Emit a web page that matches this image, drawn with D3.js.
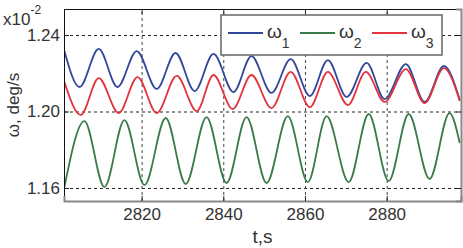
<!DOCTYPE html>
<html>
<head>
<meta charset="utf-8">
<script src="https://cdn.jsdelivr.net/npm/d3@7"></script>
<style>
  body { margin: 0; background: #fff; }
  text { font-family: Arial, "Liberation Sans", sans-serif; }
</style>
</head>
<body>
<div id="chart"></div>
<script>
// 数据：极值点（单位 ×10^-2 deg/s）
const t1 = [2801.1, 2804.8, 2809.5, 2814.1, 2818.8, 2823.7, 2828.3, 2833.0, 2837.6, 2842.5, 2846.9,
            2851.8, 2856.5, 2861.2, 2865.6, 2870.2, 2875.1, 2879.5, 2884.7, 2889.3, 2894.0, 2897.9];
const w1 = [1.2316, 1.2128, 1.2327, 1.2128, 1.2316, 1.2118, 1.2306, 1.2107, 1.2301, 1.2102, 1.2290,
            1.2097, 1.2274, 1.2081, 1.2269, 1.2076, 1.2254, 1.2065, 1.2248, 1.2050, 1.2238, 1.2060];

const t2 = [2801.1, 2806.0, 2810.9, 2815.8, 2820.7, 2825.9, 2830.8, 2835.9, 2840.8, 2845.7, 2850.6,
            2855.8, 2860.7, 2865.3, 2870.7, 2875.6, 2880.5, 2885.4, 2890.5, 2895.4, 2897.9];
const w2 = [1.1605, 1.1950, 1.1605, 1.1955, 1.1615, 1.1966, 1.1621, 1.1971, 1.1626, 1.1971, 1.1626,
            1.1976, 1.1631, 1.1976, 1.1631, 1.1987, 1.1636, 1.1987, 1.1647, 1.1992, 1.1835];

const t3 = [2801.1, 2805.1, 2809.5, 2814.4, 2819.0, 2823.7, 2828.6, 2833.5, 2837.6, 2842.3, 2846.9,
            2851.8, 2856.5, 2861.2, 2865.6, 2870.5, 2874.9, 2879.5, 2884.7, 2889.3, 2894.0, 2897.9];
const w3 = [1.2154, 1.1982, 1.2175, 1.1992, 1.2180, 1.1992, 1.2186, 1.2002, 1.2191, 1.2013, 1.2191,
            1.2018, 1.2207, 1.2023, 1.2207, 1.2034, 1.2207, 1.2050, 1.2222, 1.2044, 1.2227, 1.2055];

const xTicks = [2820, 2840, 2860, 2880];
const yTicks = [1.16, 1.20, 1.24];
const seriesNames = ["1", "2", "3"];
const seriesColors = ["#33479a", "#3b7b4b", "#e2333f"];

const W = 463, H = 248;
const margin = { top: 9, right: 2, bottom: 47, left: 64 };
const width = W - margin.left - margin.right;
const height = H - margin.top - margin.bottom;

const svg = d3.select("#chart").append("svg")
    .attr("width", W).attr("height", H);
const g = svg.append("g").attr("transform", `translate(${margin.left},${margin.top})`);

const x = d3.scaleLinear().domain([2801, 2898.2]).range([0, width]);
const y = d3.scaleLinear().domain([1.1532, 1.2536]).range([height, 0]);

// 网格线
g.append("g").attr("class", "grid")
    .call(d3.axisLeft(y).tickValues(yTicks).tickSize(-width).tickFormat(""))
    .call(s => s.select(".domain").remove())
    .selectAll("line").attr("stroke", "#222").attr("stroke-dasharray", "3,3");
g.append("g").attr("class", "grid")
    .attr("transform", `translate(0,${height})`)
    .call(d3.axisBottom(x).tickValues(xTicks).tickSize(-height).tickFormat(""))
    .call(s => s.select(".domain").remove())
    .selectAll("line").attr("stroke", "#444").attr("stroke-dasharray", "3,3");

// 曲线
const line = d3.line()
    .x(d => x(d[0]))
    .y(d => y(d[1]))
    .curve(d3.curveMonotoneX);

const allSeries = [
    d3.zip(t1, w1),
    d3.zip(t2, w2),
    d3.zip(t3, w3)
];

g.append("defs").append("clipPath").attr("id", "clip")
    .append("rect").attr("width", width).attr("height", height);

g.append("g").attr("clip-path", "url(#clip)")
    .selectAll("path")
    .data(allSeries)
    .join("path")
    .attr("d", line)
    .attr("fill", "none")
    .attr("stroke", (d, i) => seriesColors[i])
    .attr("stroke-width", 1.8);

// 坐标轴
const axisStyle = s => {
    s.selectAll("text").attr("fill", "#333").style("font-size", "17px");
    s.selectAll(".tick line").attr("stroke", "#222");
};

g.append("g")
    .call(d3.axisLeft(y).tickValues(yTicks).tickFormat(d3.format(".2f")).tickSize(-5).tickPadding(4))
    .call(axisStyle)
    .call(s => s.select(".domain").attr("stroke", "#111"));

g.append("g")
    .attr("transform", `translate(0,${height})`)
    .call(d3.axisBottom(x).tickValues(xTicks).tickFormat(d3.format("d")).tickSize(-5).tickPadding(7))
    .call(axisStyle)
    .call(s => s.select(".domain").attr("stroke", "#888").attr("stroke-width", 2));

g.append("g")
    .call(d3.axisTop(x).tickValues(xTicks).tickFormat("").tickSize(-5))
    .call(s => s.select(".domain").attr("stroke", "#111"))
    .selectAll(".tick line").attr("stroke", "#222");

g.append("g")
    .attr("transform", `translate(${width},0)`)
    .call(d3.axisRight(y).tickValues(yTicks).tickFormat("").tickSize(-5))
    .call(s => s.select(".domain").attr("stroke", "#888").attr("stroke-width", 2))
    .selectAll(".tick line").attr("stroke", "#222");

// 指数标记 x10^-2
const exp = svg.append("text")
    .attr("x", 3).attr("y", 25)
    .attr("fill", "#333")
    .style("font-size", "17px");
exp.append("tspan").text("x10");
exp.append("tspan").attr("dy", -11).style("font-size", "12px").text("-2");

// 轴标题
svg.append("text")
    .attr("transform", `translate(19,${margin.top + height / 2}) rotate(-90)`)
    .attr("text-anchor", "middle")
    .attr("fill", "#333")
    .style("font-size", "17px")
    .text("ω, deg/s");

svg.append("text")
    .attr("x", margin.left + width / 2)
    .attr("y", 243)
    .attr("text-anchor", "middle")
    .attr("fill", "#333")
    .style("font-size", "19px")
    .text("t,s");

// 图例
const legend = svg.append("g").attr("transform", "translate(221,15)");
legend.append("rect")
    .attr("width", 221).attr("height", 40)
    .attr("fill", "#fff")
    .attr("stroke", "#666").attr("stroke-width", 1.5);

seriesNames.forEach((name, i) => {
    const row = legend.append("g").attr("transform", `translate(${7 + i * 72},0)`);
    row.append("line")
        .attr("x1", 0).attr("x2", 35).attr("y1", 18).attr("y2", 18)
        .attr("stroke", seriesColors[i]).attr("stroke-width", 1.8);
    const txt = row.append("text")
        .attr("x", 39).attr("y", 23)
        .attr("fill", "#333")
        .style("font-size", "19px");
    txt.append("tspan").text("ω");
    txt.append("tspan").attr("dy", 10).style("font-size", "14px").text(name);
});
</script>
</body>
</html>
